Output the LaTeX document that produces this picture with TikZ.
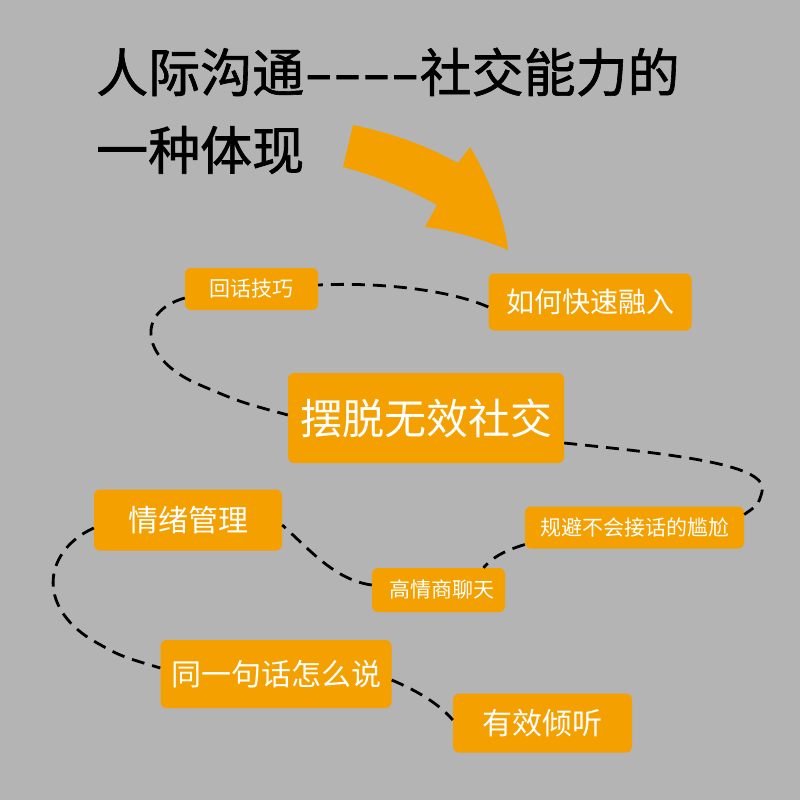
\documentclass[tikz,border=0pt]{standalone}
\usepackage{fontspec}
\usepackage{graphicx}
\setmainfont{Noto Sans CJK SC}
\newfontfamily\titlefont[FakeBold=1.2]{Noto Sans CJK SC}
\definecolor{bggray}{RGB}{180,180,180}
\definecolor{orng}{RGB}{244,160,0}
\tikzset{
  obox/.style={fill=orng, rounded corners=6pt, text=white, inner sep=0pt, align=center},
  link/.style={draw=black, line width=2.8pt, dash pattern=on 13pt off 8pt},
  titletext/.style={anchor=west, inner sep=0pt, text=black}
}
\begin{document}
\begin{tikzpicture}[x=1pt,y=-1pt]
\useasboundingbox (0,0) rectangle (800,800);
\fill[bggray] (0,0) rectangle (800,800);

% title
\node[titletext, font=\titlefont\fontsize{52}{60}\selectfont] (t1) at (96,72) {人际沟通\scalebox{1.6}[1]{-{}-{}-{}-}社交能力的};
\node[titletext, font=\titlefont\fontsize{52}{60}\selectfont] (t2) at (96,150) {一种体现};

% arrow
\fill[orng] (353,125) .. controls (400,135) and (430,148) .. (458,163)
  -- (470,147) .. controls (490,180) and (505,220) .. (508,250)
  .. controls (480,238) and (450,230) .. (425,227)
  -- (437,205) .. controls (410,190) and (380,177) .. (343,167) -- cycle;

% boxes
\node[obox, minimum width=133pt, minimum height=42pt, font=\fontsize{21}{24}\selectfont] (hh) at (251.5,289) {回话技巧};
\node[obox, minimum width=203pt, minimum height=57pt, font=\fontsize{28}{32}\selectfont] (rr) at (590,302) {如何快速融入};
\node[obox, minimum width=276pt, minimum height=90pt, font=\fontsize{42}{48}\selectfont] (bt) at (426,418) {摆脱无效社交};
\node[obox, minimum width=188pt, minimum height=61pt, font=\fontsize{30}{34}\selectfont] (qx) at (188,520) {情绪管理};
\node[obox, minimum width=219pt, minimum height=42pt, font=\fontsize{21}{24}\selectfont] (gb) at (634.5,527.5) {规避不会接话的尴尬};
\node[obox, minimum width=133pt, minimum height=44pt, font=\fontsize{21}{24}\selectfont] (gq) at (438.5,590) {\hspace{6pt}高情商聊天};
\node[obox, minimum width=231pt, minimum height=68pt, font=\fontsize{30}{34}\selectfont] (ty) at (276,674) {同一句话怎么说};
\node[obox, minimum width=179pt, minimum height=59pt, font=\fontsize{30}{34}\selectfont] (yx) at (542.5,723) {有效倾听};

% connectors
\draw[link] ([yshift=-5pt]rr.west) .. controls (450,290) and (380,282) .. ([yshift=4pt]hh.east);
\draw[link] ([yshift=-9pt]hh.west) .. controls (135,312) and (140,360) .. (200,385) .. controls (240,402) .. ([yshift=3pt]bt.west);
\draw[link] ([yshift=-25pt]bt.east) .. controls (680,455) and (770,465) .. (762,492) .. controls (758,505) .. ([yshift=13pt]gb.east);
\draw[link] ([yshift=-17pt]gb.west) .. controls (500,552) and (490,560) .. ([xshift=45pt]gq.north);
\draw[link] ([yshift=5pt]gq.west) .. controls (335,580) and (310,550) .. ([yshift=-5pt]qx.east);
\draw[link] ([yshift=-8pt]qx.west) .. controls (45,550) and (35,605) .. (92,640) .. controls (120,656) .. ([yshift=6pt]ty.west);
\draw[link] ([yshift=-6pt]ty.east) .. controls (420,692) and (440,705) .. ([yshift=3pt]yx.west);
\end{tikzpicture}
\end{document}
